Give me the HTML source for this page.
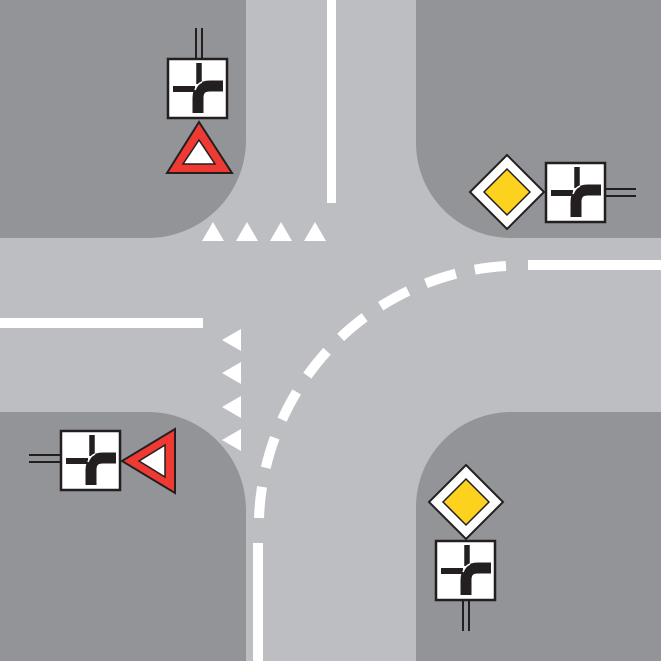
<!DOCTYPE html>
<html><head><style>html,body{margin:0;padding:0;background:#bdbec1;overflow:hidden}svg{display:block}</style></head><body>
<svg width="661" height="661" viewBox="0 0 661 661" xmlns="http://www.w3.org/2000/svg">
<defs>
<g id="dir">
<rect x="1" y="1" width="59" height="59" fill="#fff" stroke="#231f20" stroke-width="2.5"/>
<path d="M32,5 V26" stroke="#231f20" stroke-width="5.5" fill="none"/>
<path d="M6,31 H28" stroke="#231f20" stroke-width="6" fill="none"/>
<path d="M56,28 H43 Q31,28 31,40 V55" stroke="#231f20" stroke-width="11" fill="none"/>
<path d="M35,24 Q30,26 28,32" stroke="#fff" stroke-width="1.5" fill="none"/>
</g>
<g id="pri">
<polygon points="0,-37 37,0 0,37 -37,0" fill="#fff" stroke="#231f20" stroke-width="2"/>
<polygon points="0,-23 23,0 0,23 -23,0" fill="#fdd21f" stroke="#231f20" stroke-width="1.5"/>
</g>
</defs>
<rect width="661" height="661" fill="#bdbec1"/>
<path d="M0,0 H246 V140 A98,98 0 0 1 148,238 H0 Z" fill="#939498"/>
<path d="M416,0 H661 V238 H511 A95,95 0 0 1 416,143 Z" fill="#939498"/>
<path d="M0,412 H148 A98,98 0 0 1 246,510 V661 H0 Z" fill="#939498"/>
<path d="M661,412 H511 A95,95 0 0 0 416,507 V661 H661 Z" fill="#939498"/>
<g fill="#fff">
<rect x="327" y="0" width="9" height="203"/>
<rect x="0" y="318" width="203" height="10"/>
<rect x="528" y="260" width="133" height="10"/>
<rect x="253" y="543" width="10" height="118"/>
<polygon points="202,241 224,241 213,222"/>
<polygon points="236,241 258,241 247,222"/>
<polygon points="270,241 292,241 281,222"/>
<polygon points="304,241 326,241 315,222"/>
<polygon points="241,329 241,351 222,340"/>
<polygon points="241,362 241,384 222,373"/>
<polygon points="241,396 241,418 222,407"/>
<polygon points="241,429 241,451 222,440"/>
</g>
<path d="M506,266 A262,262 0 0 0 259,518" pathLength="100" fill="none" stroke="#fff" stroke-width="10" stroke-dasharray="8.12 5.01"/>
<g stroke="#231f20" stroke-width="2"><line x1="196" y1="28" x2="196" y2="59"/><line x1="202" y1="28" x2="202" y2="59"/></g>
<use href="#dir" x="167" y="58"/>
<polygon points="199,122 167,173 232,173" fill="#ee3a33" stroke="#231f20" stroke-width="2"/>
<polygon points="199,140 183,164 215,164" fill="#fff" stroke="#231f20" stroke-width="1.5"/>
<use href="#pri" x="507" y="192"/>
<use href="#dir" x="545" y="162"/>
<g stroke="#231f20" stroke-width="2"><line x1="605" y1="189" x2="636" y2="189"/><line x1="605" y1="196" x2="636" y2="196"/></g>
<g stroke="#231f20" stroke-width="2"><line x1="29" y1="455" x2="60" y2="455"/><line x1="29" y1="462" x2="60" y2="462"/></g>
<use href="#dir" x="60" y="430"/>
<polygon points="122,461 175,429 175,493" fill="#ee3a33" stroke="#231f20" stroke-width="2"/>
<polygon points="139,461 165,445 165,477" fill="#fff" stroke="#231f20" stroke-width="1.5"/>
<use href="#pri" x="466" y="502"/>
<use href="#dir" x="435" y="540"/>
<g stroke="#231f20" stroke-width="2"><line x1="463" y1="601" x2="463" y2="631"/><line x1="469" y1="601" x2="469" y2="631"/></g>
</svg>
</body></html>
